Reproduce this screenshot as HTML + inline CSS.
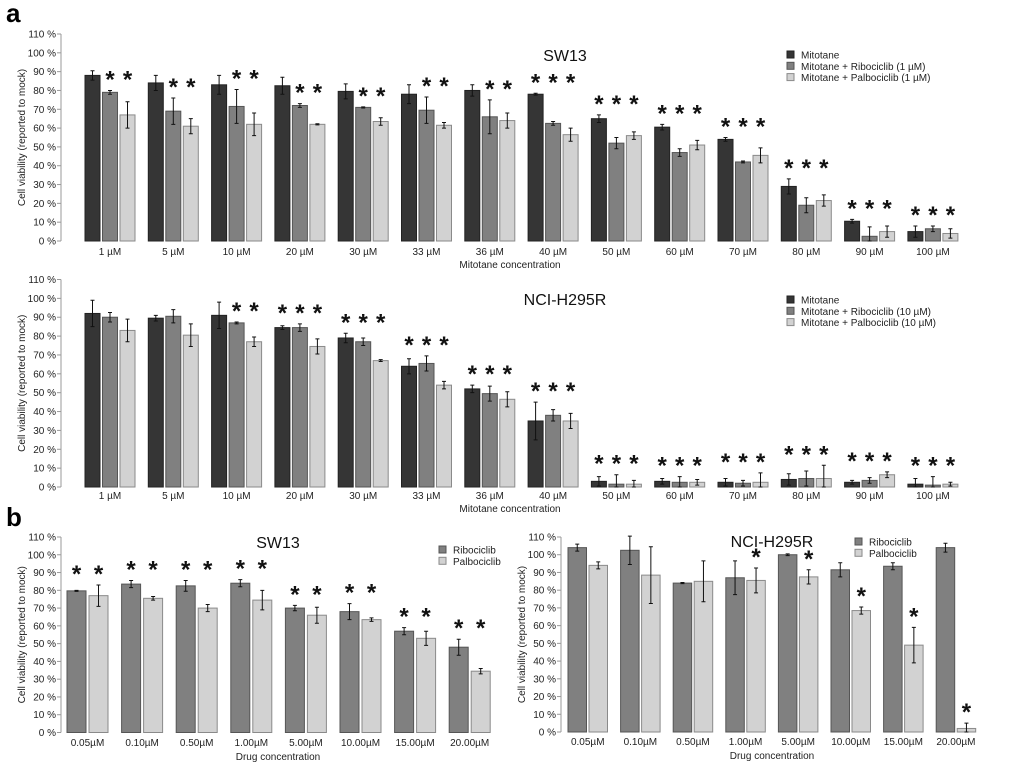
<!DOCTYPE html>
<html><head><meta charset="utf-8"><style>
body{margin:0;background:#fff;width:1020px;height:765px;overflow:hidden}
svg{font-family:"Liberation Sans",sans-serif}
</style></head><body>
<svg id="fig" width="1020" height="765" viewBox="0 0 1020 765" xmlns="http://www.w3.org/2000/svg">
<text x="6" y="22" font-size="26" font-weight="bold">a</text>
<text x="6" y="526" font-size="26" font-weight="bold">b</text>
</svg>
<script>
// ---- data ----
const mitoCats = ["1 µM","5 µM","10 µM","20 µM","30 µM","33 µM","36 µM","40 µM","50 µM","60 µM","70 µM","80 µM","90 µM","100 µM"];
const swMito = [88,84,83,82.5,79.5,78,80,78,65,60.5,54,29,10.5,5];
const swMitoErr = [2.5,4,5,4.5,4,5,3,0.5,2,1.5,1,4,1,3];
const swRibo = [79,69,71.5,72,71,69.5,66,62.5,52,47,42,19,2.5,6.5];
const swRiboErr = [1,7,9,1,0.3,7,9,1,3,2,0.5,4,5,1.5];
const swPalbo = [67,61,62,62,63.5,61.5,64,56.5,56,51,45.5,21.5,5,4];
const swPalboErr = [7,4,6,0.3,2,1.5,4,3.5,2,2.5,4,3,3,2.5];
const swStars = [[0,1,1],[0,1,1],[0,1,1],[0,1,1],[0,1,1],[0,1,1],[0,1,1],[1,1,1],[1,1,1],[1,1,1],[1,1,1],[1,1,1],[1,1,1],[1,1,1]];
const nciMito = [92,89.5,91,84.5,79,64,52,35,3,3,2.5,4,2.5,1.5];
const nciMitoErr = [7,1.5,7,1,2.5,4,2,10,2.5,1.5,2,3,1,3];
const nciRibo = [90,90.5,87,84.5,77,65.5,49.5,38,1.5,2.5,2,4.5,3.5,1];
const nciRiboErr = [2.5,3.5,0.5,2,2,4,4,3,5,3,1.5,4,1.5,4.5];
const nciPalbo = [83,80.5,77,74.5,67,54,46.5,35,1.5,2.5,2.5,4.5,6.5,1.5];
const nciPalboErr = [6,6,2.5,4,0.5,2,4,4,2,1.5,5,7,1.5,1];
const nciStars = [[0,0,0],[0,0,0],[0,1,1],[1,1,1],[1,1,1],[1,1,1],[1,1,1],[1,1,1],[1,1,1],[1,1,1],[1,1,1],[1,1,1],[1,1,1],[1,1,1]];
const drugCats = ["0.05µM","0.10µM","0.50µM","1.00µM","5.00µM","10.00µM","15.00µM","20.00µM"];
const bSwRibo = [79.7,83.5,82.5,84,70,68,57,48];
const bSwRiboErr = [0.3,2,3,2,1.5,4.5,2,4.5];
const bSwPalbo = [77,75.5,70,74.5,66,63.5,53,34.5];
const bSwPalboErr = [6,1,2,5.5,4.5,1,4,1.5];
const bSwStars = [[1,1],[1,1],[1,1],[1,1],[1,1],[1,1],[1,1],[1,1]];
const bNciRibo = [104,102.5,84,87,100,91.5,93.5,104];
const bNciRiboErr = [2,8,0.3,9.5,0.5,4,2,2.5];
const bNciPalbo = [94,88.5,85,85.5,87.5,68.5,49,2];
const bNciPalboErr = [2,16,11.5,7,4,2,10,3];
const bNciStars = [[0,0],[0,0],[0,0],[0,1],[0,1],[0,1],[0,1],[0,1]];
const yTicks = [0,10,20,30,40,50,60,70,80,90,100,110];

const NS="http://www.w3.org/2000/svg";
const fig=document.getElementById('fig');
function mk(tag,attrs,parent){const e=document.createElementNS(NS,tag);for(const k in attrs)e.setAttribute(k,attrs[k]);(parent||fig).appendChild(e);return e;}
const FILLS=["#353535","#808080","#d2d2d2"];
const STROKES=["#222","#555","#8a8a8a"];

function panel(p){
  const g=mk('g',{});
  
  
  const y=v=>p.y0-(v/110)*(p.y0-p.y110);
  const gx=i=>p.gx0+i*p.pitch;
  // axis
  const ax=mk('line',{x1:p.ax,x2:p.ax,y1:y(0),y2:y(110),stroke:"#999","stroke-width":1},g);
  
  
  yTicks.forEach(t=>{
    const tk=mk('line',{x1:p.ax-4,x2:p.ax,y1:y(t),y2:y(t),stroke:"#999"},g);
    
    
    const tl=mk('text',{x:p.ax-5,y:y(t)+3.5,"font-size":10,"text-anchor":"end",fill:"#222"},g);
    tl.textContent=t+" %";
    
    
  });
  const yt=mk('text',{x:0,y:0,"font-size":10,"text-anchor":"middle",fill:"#222",transform:`translate(${p.ytx},${(y(0)+y(110))/2}) rotate(-90)`},g);
  yt.textContent="Cell viability (reported to mock)";
  
  
  const xt=mk('text',{x:p.xtx,y:p.xty,"font-size":10,"text-anchor":"middle",fill:"#222"},g);
  xt.textContent=p.xtitle;
  
  
  const ti=mk('text',{x:p.tx,y:p.ty,"font-size":16,"text-anchor":"middle",fill:"#111"},g);
  ti.textContent=p.title;
  
  
  const ns=p.series.length;
  const groupW=p.off*(ns-1)+p.bw;
  p.cats.forEach((c,i)=>{
    const cl=mk('text',{x:gx(i)+groupW/2,y:p.xly,"font-size":10,"text-anchor":"middle",fill:"#222"},g);
    cl.textContent=c;
    
    
    let starTop=Infinity;
    p.series.forEach((s,k)=>{
      const v=s.v[i],e=s.e[i];
      const x=gx(i)+k*p.off+(p.offs?p.offs[k]:0);
      const r=mk('rect',{x:x,y:y(v),width:p.bw,height:y(0)-y(v),fill:FILLS[s.c],stroke:STROKES[s.c],"stroke-width":1},g);
      
      
      const cx=x+p.bw/2;
      const eb=mk('path',{d:`M${cx},${y(v+e)}V${y(Math.max(0,v-e))}M${cx-2},${y(v+e)}h4M${cx-2},${y(Math.max(0,v-e))}h4`,stroke:"#111","stroke-width":1,fill:"none"},g);
      
      
      if(p.stars[i][k]) starTop=Math.min(starTop,y(v+e));
    });
    if(starTop<Infinity){
      const sy = p.perBarStar?null:starTop;
      p.series.forEach((s,k)=>{
        if(!p.stars[i][k])return;
        const x=gx(i)+k*p.off+(p.offs?p.offs[k]:0)+p.bw/2;
        const top=p.perBarStar?y(s.v[i]+s.e[i]):sy;
        const st=mk('text',{x:x,y:top-14+11,"font-size":24,"font-weight":"bold","text-anchor":"middle",fill:"#111"},g);
        st.textContent="*";
        
        
      });
    }
  });
  p.legend.forEach((t,k)=>{
    const ly=p.ly+k*11.3;
    const sq=mk('rect',{x:p.lx,y:ly-4,width:7,height:7,fill:FILLS[p.series[k].c],stroke:STROKES[p.series[k].c]},g);
    
    
    const lt=mk('text',{x:p.lx+14,y:ly+3.5,"font-size":10,fill:"#222"},g);
    lt.textContent=t;
    
    
  });
}

panel({name:"chart-sw13-mitotane",y0:241,y110:34,ax:61,ytx:25,gx0:85,pitch:63.3,bw:15,off:17.5,
 cats:mitoCats,xly:255,xtitle:"Mitotane concentration",xtx:510,xty:268,title:"SW13",tx:565,ty:61,
 series:[{v:swMito,e:swMitoErr,c:0,key:"mitotane"},{v:swRibo,e:swRiboErr,c:1,key:"ribociclib"},{v:swPalbo,e:swPalboErr,c:2,key:"palbociclib"}],
 stars:swStars,lx:787,ly:55,legend:["Mitotane","Mitotane + Ribociclib (1 µM)","Mitotane + Palbociclib (1 µM)"]});
panel({name:"chart-nci-mitotane",y0:487,y110:279.5,ax:61,ytx:25,gx0:85,pitch:63.3,bw:15,off:17.5,
 cats:mitoCats,xly:499,xtitle:"Mitotane concentration",xtx:510,xty:512,title:"NCI-H295R",tx:565,ty:305,
 series:[{v:nciMito,e:nciMitoErr,c:0,key:"mitotane"},{v:nciRibo,e:nciRiboErr,c:1,key:"ribociclib"},{v:nciPalbo,e:nciPalboErr,c:2,key:"palbociclib"}],
 stars:nciStars,lx:787,ly:300,legend:["Mitotane","Mitotane + Ribociclib (10 µM)","Mitotane + Palbociclib (10 µM)"]});
panel({name:"chart-sw13-drugs",y0:732.5,y110:537,ax:61,ytx:25,gx0:67,pitch:54.6,bw:19,off:22,
 cats:drugCats,xly:746,xtitle:"Drug concentration",xtx:278,xty:760,title:"SW13",tx:278,ty:548,
 series:[{v:bSwRibo,e:bSwRiboErr,c:1,key:"ribociclib"},{v:bSwPalbo,e:bSwPalboErr,c:2,key:"palbociclib"}],
 stars:bSwStars,lx:439,ly:550,legend:["Ribociclib","Palbociclib"]});
panel({name:"chart-nci-drugs",y0:732,y110:537,ax:561,ytx:525,gx0:568,pitch:52.6,bw:18.5,off:21,perBarStar:true,
 cats:drugCats,xly:745,xtitle:"Drug concentration",xtx:772,xty:759,title:"NCI-H295R",tx:772,ty:547,
 series:[{v:bNciRibo,e:bNciRiboErr,c:1,key:"ribociclib"},{v:bNciPalbo,e:bNciPalboErr,c:2,key:"palbociclib"}],
 stars:bNciStars,lx:855,ly:542,legend:["Ribociclib","Palbociclib"]});
</script>
</body></html>
